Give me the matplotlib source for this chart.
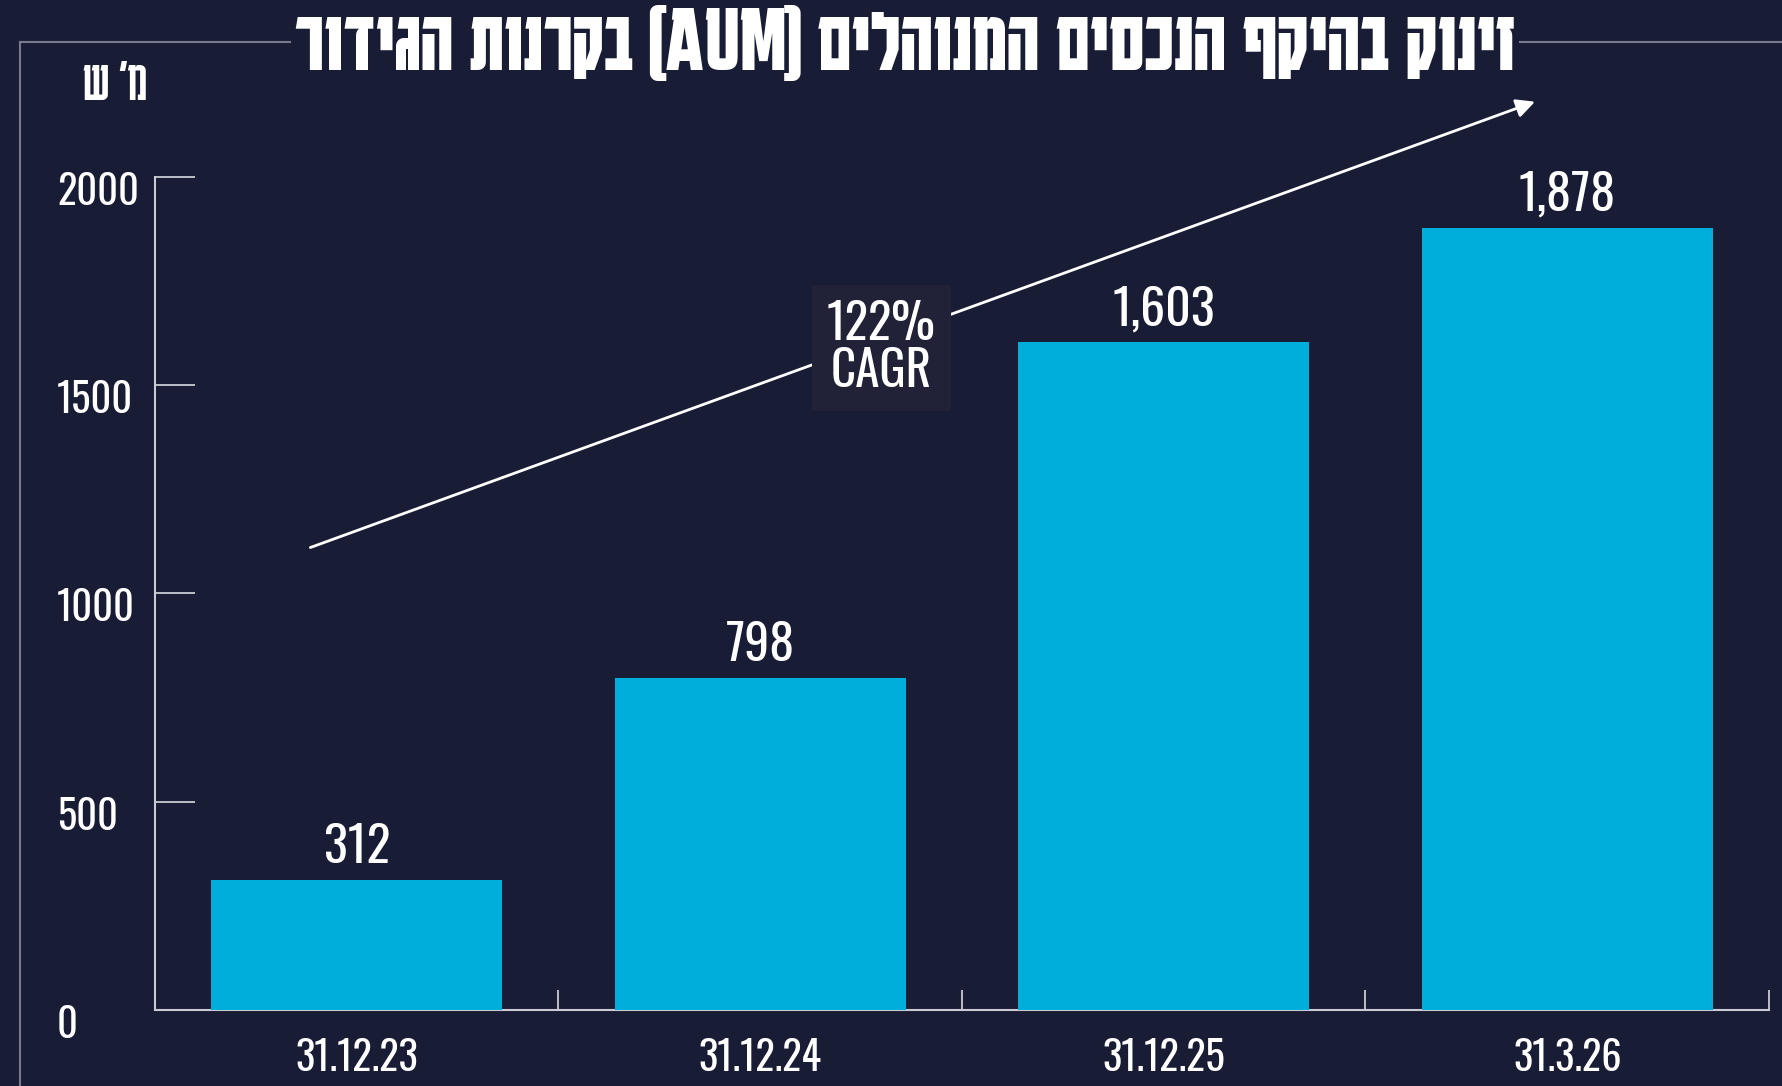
import re
import matplotlib
matplotlib.use("Agg")
import matplotlib.pyplot as plt
import matplotlib.transforms as mtransforms
from matplotlib import font_manager
from matplotlib.lines import Line2D

# ---------------------------------------------------------------------------
# data
# ---------------------------------------------------------------------------
dates = ["31.12.23", "31.12.24", "31.12.25", "31.3.26"]
aum = [312, 798, 1603, 1878]
value_labels = ["312", "798", "1,603", "1,878"]
y_ticks = [0, 500, 1000, 1500, 2000]

title = "זינוק בהיקף הנכסים המנוהלים (AUM) בקרנות הגידור"
unit = "מ' ש"
cagr = "122%\nCAGR"

# ---------------------------------------------------------------------------
# style
# ---------------------------------------------------------------------------
W, H = 1783, 1086
BG = "#191c35"
BAR = "#00aedb"
AXIS = "#c9cad3"
FRAME = "#777a8c"
BOX = "#212137"

names = {f.name for f in font_manager.fontManager.ttflist}


def pick(prefs):
    for p in prefs:
        if p in names:
            return p
    return "DejaVu Sans"


NUM = pick(["Oswald", "Fira Sans Extra Condensed", "Roboto Condensed"])
HEB = pick(["Karantina", "Secular One", "Alef", "Noto Sans Hebrew"])
plt.rcParams["font.family"] = [NUM, HEB, "DejaVu Sans"]
HEB_FAMILY = [HEB, NUM, "DejaVu Sans"]


def visual(s):
    # matplotlib has no bidi support, so lay the Hebrew out right-to-left by hand
    out = s[::-1]
    out = re.sub(r"[A-Za-z0-9%]+", lambda m: m.group(0)[::-1], out)
    return out.translate(str.maketrans("()", ")("))


fig = plt.figure(figsize=(W / 100, H / 100), dpi=100, facecolor=BG)
renderer = fig.canvas.get_renderer()


def size_for(sample, width_px, **kw):
    # font size that makes `sample` about width_px wide in the chosen face
    t = fig.text(0, 0, sample, fontsize=40, **kw)
    w = t.get_window_extent(renderer).width
    t.remove()
    return 40 * width_px / w


def px(n):
    return n * 72 / fig.dpi


ax = fig.add_axes([155 / W, 1 - 1010 / H, (1769 - 155) / W, (1010 - 176.7) / H])
ax.set_facecolor(BG)

bars = ax.bar(range(len(aum)), aum, width=0.72, color=BAR, zorder=3)
ax.set_xlim(-0.5, len(aum) - 0.5)
ax.set_ylim(0, 2000)

for side in ("top", "right"):
    ax.spines[side].set_visible(False)
for side in ("left", "bottom"):
    ax.spines[side].set_color(AXIS)
    ax.spines[side].set_linewidth(1.5)

# y axis: inward ticks, labels left-aligned near the frame
ax.set_yticks(y_ticks)
ax.tick_params(axis="y", direction="in", length=px(40), width=1.3, color=AXIS,
               labelleft=False)
ytick_size = size_for("2000", 82)
ylab_tr = mtransforms.blended_transform_factory(fig.transFigure, ax.transData)
ylab_tr = ylab_tr + mtransforms.ScaledTranslation(0, -28 / fig.dpi, fig.dpi_scale_trans)
for v in y_ticks:
    ax.text(57 / W, v, str(v), transform=ylab_tr, ha="left", va="baseline",
            fontsize=ytick_size, color="white", clip_on=False)

# x axis: labels under the bars, small separators between categories
ax.set_xticks(range(len(dates)), dates)
ax.set_xticks([i + 0.5 for i in range(len(dates))], minor=True)
ax.tick_params(axis="x", which="major", length=0, pad=px(61),
               labelsize=size_for("31.12.23", 123), labelcolor="white")
ax.tick_params(axis="x", which="minor", direction="in", length=px(20), width=1.3,
               color=AXIS)
for lab in ax.get_xticklabels():
    lab.set_verticalalignment("baseline")

# value labels sitting on the bars
value_size = size_for("1,878", 97)
for rect, lbl in zip(bars, value_labels):
    ax.annotate(lbl, (rect.get_x() + rect.get_width() / 2, rect.get_height()),
                xytext=(0, 17), textcoords="offset pixels", ha="center",
                va="baseline", fontsize=value_size, color="white")

# growth arrow with the CAGR box sitting on it
ax.annotate("", xy=(2.92, 2180), xytext=(-0.115, 1110),
            arrowprops=dict(arrowstyle="-|>", color="white", lw=2,
                            mutation_scale=28, shrinkA=0, shrinkB=0),
            annotation_clip=False, zorder=4)
cagr_size = size_for("CAGR", 101)
ax.text(1.3, 1590, cagr, ha="center", va="center", fontsize=cagr_size,
        color="white", linespacing=0.95, zorder=5,
        bbox=dict(boxstyle="square,pad=%.3f" % (px(15) / cagr_size), fc=BOX, ec="none"))

# title: the condensed Hebrew face is narrower than the original, so keep the
# letter height close and let the width come out a little short
title_vis = visual(title)
title_size = 0.84 * size_for(title_vis, 1455, family=HEB_FAMILY, fontweight="bold")
ttl = fig.text(905 / W, 1 - 70 / H, title_vis, ha="center", va="baseline",
               fontsize=title_size, family=HEB_FAMILY, fontweight="bold",
               color="white")
tb = ttl.get_window_extent(renderer)

# frame around the chart, broken by the title
fy = 1 - 42 / H
fig.add_artist(Line2D([20 / W, 20 / W], [0, fy], color=FRAME, lw=1.5))
fig.add_artist(Line2D([20 / W, (tb.x0 - 4) / W], [fy, fy], color=FRAME, lw=1.5))
fig.add_artist(Line2D([(tb.x1 + 4) / W, 1], [fy, fy], color=FRAME, lw=1.5))

unit_vis = visual(unit)
fig.text(115 / W, 1 - 100 / H, unit_vis, ha="center", va="baseline",
         fontsize=size_for(unit_vis, 64, family=HEB_FAMILY),
         family=HEB_FAMILY, color="white")

fig.savefig("out.png", dpi=100, facecolor=BG)
